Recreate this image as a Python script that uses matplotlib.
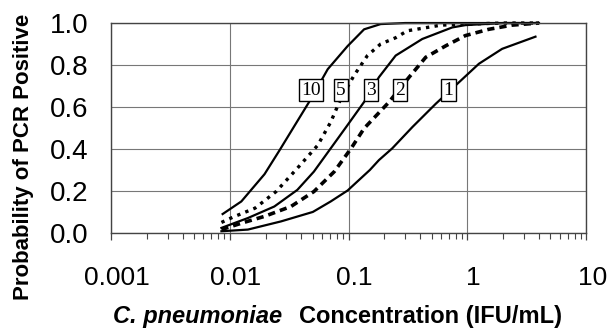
import matplotlib
matplotlib.use('Agg')
import matplotlib.pyplot as plt
import matplotlib.transforms as mtransforms
from matplotlib.ticker import FixedLocator, LogLocator, NullFormatter

plt.rcParams['font.family'] = ['Liberation Sans', 'DejaVu Sans']

# Curves: concentration (IFU/mL) vs probability
conc_10 = [0.0087, 0.0125, 0.0196, 0.0263, 0.035, 0.0484, 0.0667, 0.098, 0.135, 0.186, 0.3, 1.0, 4.0]
prob_10 = [0.09, 0.15, 0.28, 0.395, 0.51, 0.64, 0.78, 0.89, 0.97, 0.995, 1.0, 1.0, 1.0]

conc_5 = [0.0085, 0.0107, 0.0163, 0.0245, 0.037, 0.055, 0.0708, 0.086, 0.111, 0.144, 0.186, 0.249, 0.312, 0.6, 1.0, 2.0, 4.0]
prob_5 = [0.05, 0.076, 0.118, 0.197, 0.308, 0.418, 0.529, 0.64, 0.75, 0.845, 0.90, 0.93, 0.963, 0.99, 0.995, 1.0, 1.0]

conc_3 = [0.0085, 0.0142, 0.0237, 0.037, 0.051, 0.0707, 0.0977, 0.135, 0.18, 0.249, 0.417, 0.745, 0.96, 2.0, 4.0]
prob_3 = [0.024, 0.071, 0.126, 0.205, 0.292, 0.403, 0.513, 0.624, 0.742, 0.845, 0.924, 0.979, 0.99, 1.0, 1.0]

conc_2 = [0.0085, 0.0126, 0.0196, 0.0327, 0.051, 0.0757, 0.105, 0.135, 0.216, 0.323, 0.446, 0.66, 0.96, 1.51, 2.38, 4.0]
prob_2 = [0.016, 0.047, 0.079, 0.126, 0.197, 0.292, 0.403, 0.498, 0.62, 0.742, 0.837, 0.892, 0.94, 0.97, 0.99, 1.0]

conc_1 = [0.0085, 0.0142, 0.027, 0.05, 0.0707, 0.098, 0.151, 0.18, 0.233, 0.345, 0.543, 0.85, 1.25, 1.96, 3.74]
prob_1 = [0.008, 0.016, 0.055, 0.10, 0.15, 0.202, 0.30, 0.347, 0.403, 0.505, 0.616, 0.718, 0.806, 0.877, 0.935]

# Box labels: text and where they sit
label_names = ['10', '5', '3', '2', '1']
label_conc = [0.0484, 0.086, 0.155, 0.27, 0.69]
label_prob = [0.68, 0.68, 0.68, 0.68, 0.68]

x_ticks = [0.001, 0.01, 0.1, 1, 10]
x_tick_labels = ['0.001', '0.01', '0.1', '1', '10']
y_ticks = [0.0, 0.2, 0.4, 0.6, 0.8, 1.0]

fig = plt.figure(figsize=(6.1, 3.29), dpi=100)
ax = fig.add_axes([0.182, 0.292, 0.779, 0.638])

line_kw = dict(color='black', clip_on=False)
ax.plot(conc_10, prob_10, lw=1.6, **line_kw)
ax.plot(conc_5, prob_5, lw=2.4, linestyle=(0, (1, 1.6)), **line_kw)
ax.plot(conc_3, prob_3, lw=1.6, **line_kw)
ax.plot(conc_2, prob_2, lw=2.6, linestyle=(0, (2, 1.4)), **line_kw)
ax.plot(conc_1, prob_1, lw=1.6, **line_kw)

for name, cx, cy in zip(label_names, label_conc, label_prob):
    ax.text(cx, cy, name, ha='center', va='center', fontsize=14,
            family=['Liberation Serif', 'DejaVu Serif'],
            bbox=dict(boxstyle='square,pad=0.12', fc='white', ec='black', lw=1.0))

ax.set_xscale('log')
ax.set_xlim(0.001, 10)
ax.set_ylim(0, 1.0)

ax.xaxis.set_major_locator(FixedLocator(x_ticks))
ax.set_xticklabels(x_tick_labels)
ax.xaxis.set_minor_locator(LogLocator(base=10, subs=range(2, 10)))
ax.xaxis.set_minor_formatter(NullFormatter())
ax.set_yticks(y_ticks)
ax.set_yticklabels(['%.1f' % v for v in y_ticks])

ax.tick_params(axis='x', which='major', direction='out', length=5, width=0.9,
               color='#444444', labelsize=19, pad=19)
ax.tick_params(axis='x', which='minor', direction='out', length=4, width=0.8, color='#444444')
ax.tick_params(axis='y', length=0, labelsize=20, pad=16)

# x tick labels sit a little right of their ticks in the original
shift = mtransforms.ScaledTranslation(6 / 100, 0, fig.dpi_scale_trans)
for lab in ax.get_xticklabels():
    lab.set_transform(lab.get_transform() + shift)

ax.grid(True, which='major', color='#777777', lw=0.8)
ax.set_axisbelow(True)
for side in ['left', 'bottom', 'top', 'right']:
    ax.spines[side].set_color('#444444')
    ax.spines[side].set_linewidth(1.0)

fig.text(24 / 610, 1 - 157 / 329, 'Probability of PCR Positive', rotation=90,
         ha='center', va='center', fontsize=16, fontweight='bold')

fig.text(113 / 610, 1 - 316 / 329, 'C. pneumoniae', ha='left', va='center',
         fontsize=17, fontweight='bold', style='italic')
fig.text(299 / 610, 1 - 316 / 329, 'Concentration (IFU/mL)', ha='left', va='center',
         fontsize=17, fontweight='bold')

fig.savefig('out.png', dpi=100)
